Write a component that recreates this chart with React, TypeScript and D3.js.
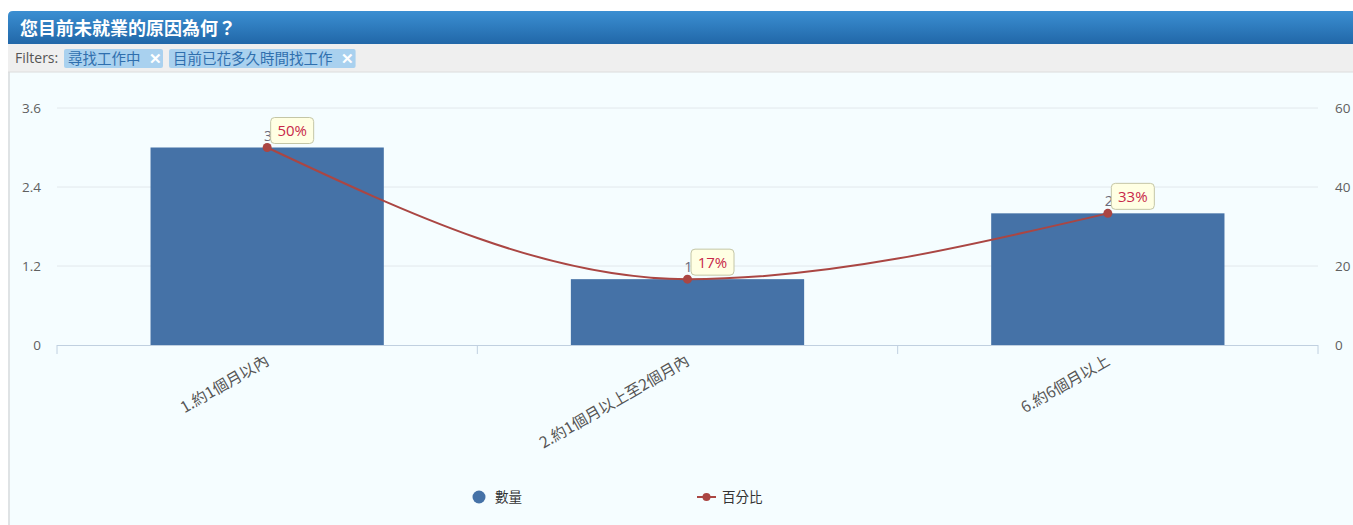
import React from 'react';
import * as d3 from 'd3';

const categories = ['1.約1個月以內', '2.約1個月以上至2個月內', '6.約6個月以上'];
const counts = [3, 1, 2];
const percents = [50, 16.67, 33.33];
const percentLabels = ['50%', '17%', '33%'];
const leftTicks = [0, 1.2, 2.4, 3.6];
const rightTicks = [0, 20, 40, 60];
const filters = ['尋找工作中', '目前已花多久時間找工作'];

const W = 1353;
const H = 525;
const FONT = '"Open Sans", "Noto Sans CJK TC", sans-serif';
const CJK = '"Noto Sans CJK TC", "Open Sans", sans-serif';

const App: React.FC = () => {
  const plot = { left: 57, right: 1318, top: 108, bottom: 345 };

  const x = d3.scaleBand<string>().domain(categories).range([plot.left, plot.right]);
  const yL = d3.scaleLinear().domain([0, 3.6]).range([plot.bottom, plot.top]);
  const yR = d3.scaleLinear().domain([0, 60]).range([plot.bottom, plot.top]);
  const barW = x.bandwidth() * 0.555;
  const cx = (c: string) => (x(c) as number) + x.bandwidth() / 2;

  const pts = categories.map((c, i) => [cx(c), yR(percents[i])] as [number, number]);
  const linePath = d3.line().curve(d3.curveMonotoneX)(pts) || '';

  // tick positions on the category axis
  const catTicks = [...categories.map((c) => x(c) as number), plot.right];

  // filter chips layout
  let chipX = 64;
  const chips = filters.map((f) => {
    const w = f.length * 14.6 + 26;
    const chip = { f, x: chipX, w };
    chipX += w + 6;
    return chip;
  });

  return (
    <div style={{ position: 'absolute', left: 0, top: 0 }}>
      <svg width={W} height={H} style={{ display: 'block' }}>
        <defs>
          <linearGradient id="hdr" x1="0" y1="0" x2="0" y2="1">
            <stop offset="0%" stopColor="#3b8fd2" />
            <stop offset="100%" stopColor="#2167a8" />
          </linearGradient>
        </defs>
        <rect x={0} y={0} width={W} height={H} fill="#ffffff" />
        {/* chart panel */}
        <rect x={8} y={72} width={W - 8} height={H - 72} fill="#f5fdff" />
        <line x1={9} y1={72} x2={9} y2={H} stroke="#dfe3e5" strokeWidth={2} />
        {/* header */}
        <path d={`M8,${44} V16 Q8,11 13,11 H${W} V44 Z`} fill="url(#hdr)" />
        <text x={20} y={35} fill="#ffffff" fontSize={18} fontWeight="bold" fontFamily={CJK}>
          您目前未就業的原因為何？
        </text>
        {/* filter bar */}
        <rect x={8} y={44} width={W - 8} height={28} fill="#efefef" />
        <line x1={8} y1={72} x2={W} y2={72} stroke="#dcdcdc" />
        <text x={15} y={63} fill="#555" fontSize={14} fontFamily={FONT}>Filters:</text>
        {chips.map((c) => (
          <g key={c.f}>
            <rect x={c.x} y={49} width={c.w} height={19} rx={2} fill="#a9d1ef" />
            <text x={c.x + 4} y={63.5} fill="#2f6fae" fontSize={14.5} fontFamily={CJK}>{c.f}</text>
            <text x={c.x + c.w - 8} y={64} fill="#ffffff" fontSize={15} fontWeight="bold" textAnchor="middle" fontFamily={FONT}>✕</text>
          </g>
        ))}

        {/* gridlines */}
        {leftTicks.slice(1).map((t) => (
          <line key={t} x1={plot.left} x2={plot.right} y1={yL(t)} y2={yL(t)} stroke="#e2e8ec" />
        ))}
        {/* left ticks */}
        {leftTicks.map((t) => (
          <text key={t} x={41} y={yL(t) + 5} textAnchor="end" fill="#606060" fontSize={13.5} fontFamily={FONT}>
            {t === 0 ? '0' : t.toFixed(1)}
          </text>
        ))}
        {/* right ticks */}
        {rightTicks.map((t) => (
          <text key={t} x={1335} y={yR(t) + 5} textAnchor="start" fill="#606060" fontSize={13.5} fontFamily={FONT}>
            {t}
          </text>
        ))}

        {/* bars */}
        {categories.map((c, i) => (
          <rect key={c} x={cx(c) - barW / 2} y={yL(counts[i])} width={barW} height={plot.bottom - yL(counts[i])} fill="#4572a7" />
        ))}

        {/* x axis */}
        <line x1={plot.left} x2={plot.right} y1={plot.bottom + 0.5} y2={plot.bottom + 0.5} stroke="#c0d0e0" />
        {catTicks.map((t, i) => (
          <line key={i} x1={t} x2={t} y1={plot.bottom} y2={plot.bottom + 9} stroke="#c0d0e0" />
        ))}
        {categories.map((c) => (
          <text key={c} transform={`translate(${cx(c) + 3},${plot.bottom + 19}) rotate(-30)`} textAnchor="end" fill="#555" fontSize={15.5} fontFamily={CJK}>
            {c}
          </text>
        ))}

        {/* count labels */}
        {categories.map((c, i) => (
          <text key={c} x={cx(c) + 1} y={yL(counts[i]) - 7} textAnchor="middle" fill="#6a6a7a" fontSize={14.5} fontFamily={FONT}>
            {counts[i]}
          </text>
        ))}

        {/* percent line */}
        <path d={linePath} fill="none" stroke="#aa4643" strokeWidth={2} />
        {pts.map((p, i) => (
          <circle key={i} cx={p[0]} cy={p[1]} r={4.5} fill="#aa4643" />
        ))}
        {pts.map((p, i) => (
          <g key={i}>
            <rect x={p[0] + 3.5} y={p[1] - 30} width={43} height={26} rx={4} fill="#ffffe3" stroke="#c4c6a6" />
            <text x={p[0] + 25} y={p[1] - 11.5} textAnchor="middle" fill="#c8284a" fontSize={15} fontFamily={FONT}>
              {percentLabels[i]}
            </text>
          </g>
        ))}

        {/* legend */}
        <circle cx={479} cy={497} r={6.5} fill="#4572a7" />
        <text x={495} y={502} fill="#333" fontSize={13.5} fontFamily={CJK}>數量</text>
        <line x1={697} x2={716} y1={497} y2={497} stroke="#aa4643" strokeWidth={2} />
        <circle cx={706.5} cy={497} r={4} fill="#aa4643" />
        <text x={722} y={502} fill="#333" fontSize={13.5} fontFamily={CJK}>百分比</text>
      </svg>
    </div>
  );
};

export default App;
